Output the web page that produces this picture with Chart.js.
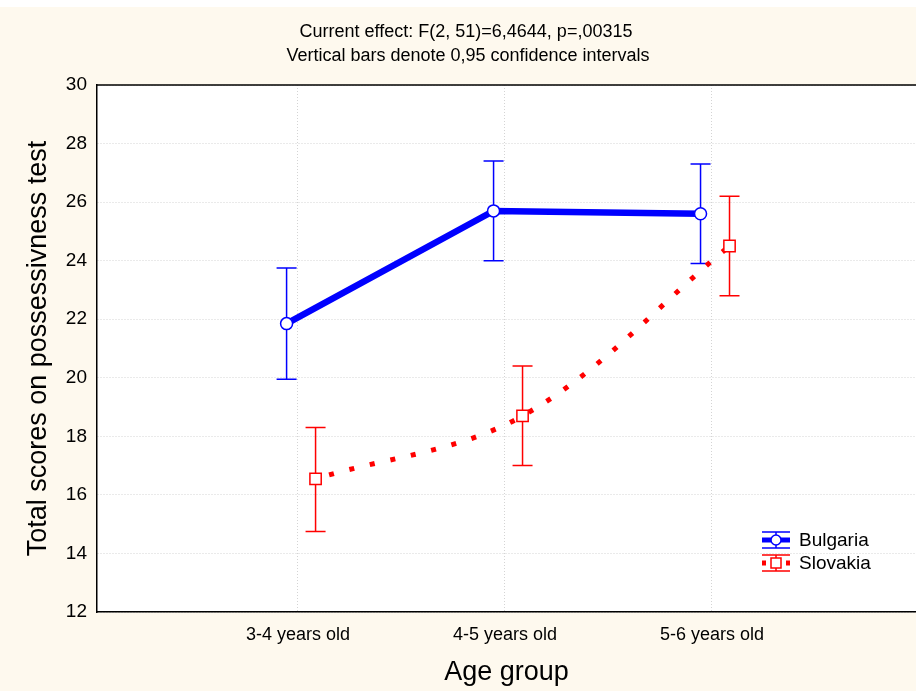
<!DOCTYPE html>
<html>
<head>
<meta charset="utf-8">
<script src="https://cdn.jsdelivr.net/npm/chart.js@4.4.0/dist/chart.umd.min.js"></script>
<style>
    html, body { margin: 0; padding: 0; background: #fef9ee; }
    #contenedor { width: 916px; height: 691px; }
</style>
</head>
<body>
<div id="contenedor"><canvas id="grafica" width="916" height="691"></canvas></div>
<script>
// datos
const grupos = ['3-4 years old', '4-5 years old', '5-6 years old'];
const posGrupos = [1, 2, 3];
const bulgaria = [21.85, 25.7, 25.6];
const bulgariaMin = [19.95, 24.0, 23.9];
const bulgariaMax = [23.75, 27.4, 27.3];
const eslovaquia = [16.55, 18.7, 24.5];
const eslovaquiaMin = [14.75, 17.0, 22.8];
const eslovaquiaMax = [18.3, 20.4, 26.2];
const ticksY = [12, 14, 16, 18, 20, 22, 24, 26, 28, 30];
const subtitulos = ['Current effect: F(2, 51)=6,4644, p=,00315', 'Vertical bars denote 0,95 confidence intervals'];

const fuente = "'Liberation Sans', Arial, sans-serif";
const desplazBulgaria = -0.055;
const desplazEslovaquia = 0.085;

function puntos(valores, desplaz) {
    return valores.map((v, i) => ({ x: posGrupos[i] + desplaz, y: v }));
}

const series = [
    { nombre: 'Bulgaria', color: '#0000ff', min: bulgariaMin, max: bulgariaMax, desplaz: desplazBulgaria },
    { nombre: 'Slovakia', color: '#ff0000', min: eslovaquiaMin, max: eslovaquiaMax, desplaz: desplazEslovaquia }
];

const fondo = {
    id: 'fondo',
    beforeDraw(chart) {
        const { ctx, chartArea } = chart;
        ctx.save();
        ctx.fillStyle = '#fef9ee';
        ctx.fillRect(0, 0, chart.width, chart.height);
        ctx.fillStyle = '#ffffff';
        ctx.fillRect(0, 0, chart.width, 7);
        ctx.fillRect(chartArea.left, chartArea.top, chartArea.right - chartArea.left, chartArea.bottom - chartArea.top);
        ctx.restore();
    }
};

const barrasError = {
    id: 'barrasError',
    beforeDatasetsDraw(chart) {
        const { ctx } = chart;
        const sx = chart.scales.x;
        const sy = chart.scales.y;
        ctx.save();
        ctx.lineWidth = 1.5;
        series.forEach(s => {
            ctx.strokeStyle = s.color;
            posGrupos.forEach((p, i) => {
                const x = sx.getPixelForValue(p + s.desplaz);
                const y1 = sy.getPixelForValue(s.max[i]);
                const y2 = sy.getPixelForValue(s.min[i]);
                ctx.beginPath();
                ctx.moveTo(x, y1); ctx.lineTo(x, y2);
                ctx.moveTo(x - 10, y1); ctx.lineTo(x + 10, y1);
                ctx.moveTo(x - 10, y2); ctx.lineTo(x + 10, y2);
                ctx.stroke();
            });
        });
        ctx.restore();
    }
};

const textos = {
    id: 'textos',
    afterDraw(chart) {
        const { ctx, chartArea } = chart;
        ctx.save();
        // borde superior
        ctx.strokeStyle = '#000';
        ctx.lineWidth = 1.5;
        ctx.beginPath();
        ctx.moveTo(chartArea.left, chartArea.top);
        ctx.lineTo(chartArea.right, chartArea.top);
        ctx.stroke();

        ctx.fillStyle = '#000';
        ctx.font = '18px ' + fuente;
        ctx.textAlign = 'center';
        ctx.textBaseline = 'middle';
        ctx.fillText(subtitulos[0], 466, 32);
        ctx.fillText(subtitulos[1], 468, 56);

        // leyenda
        const xs = 776;
        const filas = [540, 563];
        series.forEach((s, i) => {
            const y = filas[i];
            ctx.strokeStyle = s.color;
            ctx.lineWidth = 1.5;
            ctx.beginPath();
            ctx.moveTo(xs - 14, y - 8); ctx.lineTo(xs + 14, y - 8);
            ctx.moveTo(xs - 14, y + 8); ctx.lineTo(xs + 14, y + 8);
            ctx.moveTo(xs, y - 8); ctx.lineTo(xs, y + 8);
            ctx.stroke();
            ctx.lineWidth = 5;
            if (i === 0) {
                ctx.beginPath();
                ctx.moveTo(xs - 14, y); ctx.lineTo(xs + 14, y);
                ctx.stroke();
                ctx.beginPath();
                ctx.arc(xs, y, 5, 0, Math.PI * 2);
                ctx.fillStyle = '#fff';
                ctx.fill();
                ctx.lineWidth = 1.5;
                ctx.stroke();
            } else {
                ctx.fillStyle = s.color;
                ctx.fillRect(xs - 14, y - 2.5, 4, 5);
                ctx.fillRect(xs + 10, y - 2.5, 4, 5);
                ctx.fillStyle = '#fff';
                ctx.fillRect(xs - 5, y - 5, 10, 10);
                ctx.lineWidth = 1.5;
                ctx.strokeRect(xs - 5, y - 5, 10, 10);
            }
            ctx.fillStyle = '#000';
            ctx.font = '19px ' + fuente;
            ctx.textAlign = 'left';
            ctx.fillText(s.nombre, 799, y + 1);
        });
        ctx.restore();
    }
};

const ctx = document.getElementById('grafica').getContext('2d');
const grafica = new Chart(ctx, {
    type: 'line',
    data: {
        datasets: [
            {
                label: 'Bulgaria',
                data: puntos(bulgaria, desplazBulgaria),
                borderColor: '#0000ff',
                borderWidth: 6.5,
                pointRadius: 6,
                pointBorderWidth: 1.5,
                pointBackgroundColor: '#ffffff',
                pointBorderColor: '#0000ff',
                pointStyle: 'circle',
                tension: 0
            },
            {
                label: 'Slovakia',
                data: puntos(eslovaquia, desplazEslovaquia),
                borderColor: '#ff0000',
                borderWidth: 5,
                borderDash: [5, 16],
                borderDashOffset: -14,
                pointRadius: 8,
                pointBorderWidth: 1.5,
                pointBackgroundColor: '#ffffff',
                pointBorderColor: '#ff0000',
                pointStyle: 'rect',
                tension: 0.35
            }
        ]
    },
    options: {
        responsive: false,
        animation: false,
        layout: { autoPadding: false, padding: { top: 85, right: 0, left: 0, bottom: 0 } },
        plugins: {
            legend: { display: false },
            tooltip: { enabled: false }
        },
        scales: {
            x: {
                type: 'linear',
                min: 0.029,
                max: 3.986,
                afterBuildTicks: s => { s.ticks = posGrupos.map(v => ({ value: v })); },
                afterFit: s => { s.height = 79; },
                ticks: {
                    callback: v => grupos[posGrupos.indexOf(v)],
                    font: { family: fuente, size: 18 },
                    color: '#000',
                    padding: 12,
                    maxRotation: 0
                },
                grid: { color: '#d4d4d4', drawTicks: false, lineWidth: 1 },
                border: { color: '#000', width: 1.5, dash: [1, 2] },
                title: {
                    display: true,
                    text: 'Age group',
                    font: { family: fuente, size: 27 },
                    color: '#000',
                    padding: { top: 0, bottom: 2 }
                }
            },
            y: {
                min: 12,
                max: 30,
                afterBuildTicks: s => { s.ticks = ticksY.map(v => ({ value: v })); },
                afterFit: s => { s.width = 97; },
                ticks: {
                    font: { family: fuente, size: 19 },
                    color: '#000',
                    padding: 10
                },
                grid: { color: '#d4d4d4', drawTicks: false, lineWidth: 1 },
                border: { color: '#000', width: 1.5, dash: [1, 2] },
                title: {
                    display: true,
                    text: 'Total scores on possessivness test',
                    font: { family: fuente, size: 27 },
                    color: '#000',
                    padding: { top: 22, bottom: 0 }
                }
            }
        }
    },
    plugins: [fondo, barrasError, textos]
});
</script>
</body>
</html>
